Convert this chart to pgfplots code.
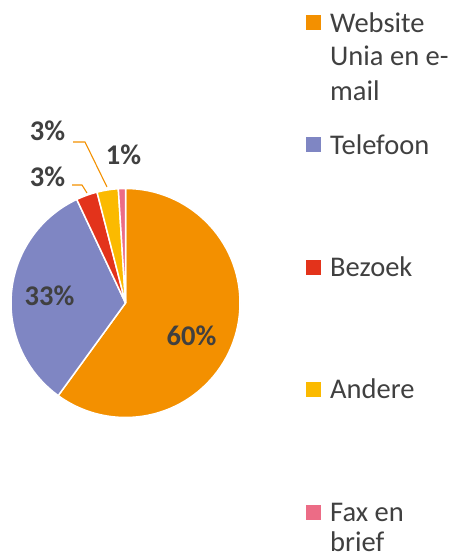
\documentclass[border=0pt]{standalone}
\usepackage{pgfplots}
\pgfplotsset{compat=1.18}
\usepackage{fontspec}
\setmainfont{Carlito}
\definecolor{cWeb}{HTML}{F39000}
\definecolor{cTel}{HTML}{7F86C3}
\definecolor{cBez}{HTML}{E3331B}
\definecolor{cAnd}{HTML}{FBBA00}
\definecolor{cFax}{HTML}{EC6C86}
\definecolor{txt}{HTML}{404040}
\begin{document}
\begin{tikzpicture}
\path[use as bounding box] (0,0) rectangle (454pt,558pt);
\begin{axis}[at={(0,0)}, anchor=south west, scale only axis,
  width=454pt, height=558pt, xmin=0, xmax=454, ymin=0, ymax=558,
  axis lines=none, clip=false]
\xdef\cum{90}
\foreach \v/\c in {60/cWeb,33/cTel,3/cBez,3/cAnd,1/cFax}{
  \pgfmathsetmacro\e{\cum-3.6*\v}
  \edef\temp{\noexpand\fill[\c,draw=white,line width=1.5pt] (axis cs:125.5,255) -- ++(\cum:114.5pt) arc[start angle=\cum,end angle=\e,radius=114.5pt] -- cycle;}
  \temp
  \xdef\cum{\e}
}
% leader lines
\draw[cWeb, line width=1.1pt] (axis cs:72,373) -- (axis cs:82,373) -- (axis cs:87,365);
\draw[cWeb, line width=1.1pt] (axis cs:73,416) -- (axis cs:85,416) -- (axis cs:107,371);
% data labels
\begin{scope}[every node/.style={anchor=base, text=txt, font=\fontsize{28.5}{34.5}\selectfont\bfseries, inner sep=0pt}]
\node at (axis cs:191.5,212) {60\%};
\node at (axis cs:49.5,252) {33\%};
\node at (axis cs:47.5,371) {3\%};
\node at (axis cs:47.5,417) {3\%};
\node at (axis cs:123.5,393) {1\%};
\end{scope}
% legend
\begin{scope}[every node/.style={anchor=base west, text=txt, font=\fontsize{28.5}{34.5}\selectfont, inner sep=0pt}]
\fill[cWeb] (axis cs:306,527.5) rectangle (axis cs:321,542.5);
\node at (axis cs:330,525) {Website};
\node at (axis cs:330,492) {Unia en e-};
\node at (axis cs:330,457.5) {mail};
\fill[cTel] (axis cs:306,405.5) rectangle (axis cs:321,420.5);
\node at (axis cs:330,403) {Telefoon};
\fill[cBez] (axis cs:306,283) rectangle (axis cs:321,298);
\node at (axis cs:330,281.3) {Bezoek};
\fill[cAnd] (axis cs:306,160.5) rectangle (axis cs:321,175.5);
\node at (axis cs:330,159) {Andere};
\fill[cFax] (axis cs:306,38) rectangle (axis cs:321,53);
\node at (axis cs:330,36.3) {Fax en};
\node at (axis cs:330,6.5) {brief};
\end{scope}
\end{axis}
\end{tikzpicture}
\end{document}
